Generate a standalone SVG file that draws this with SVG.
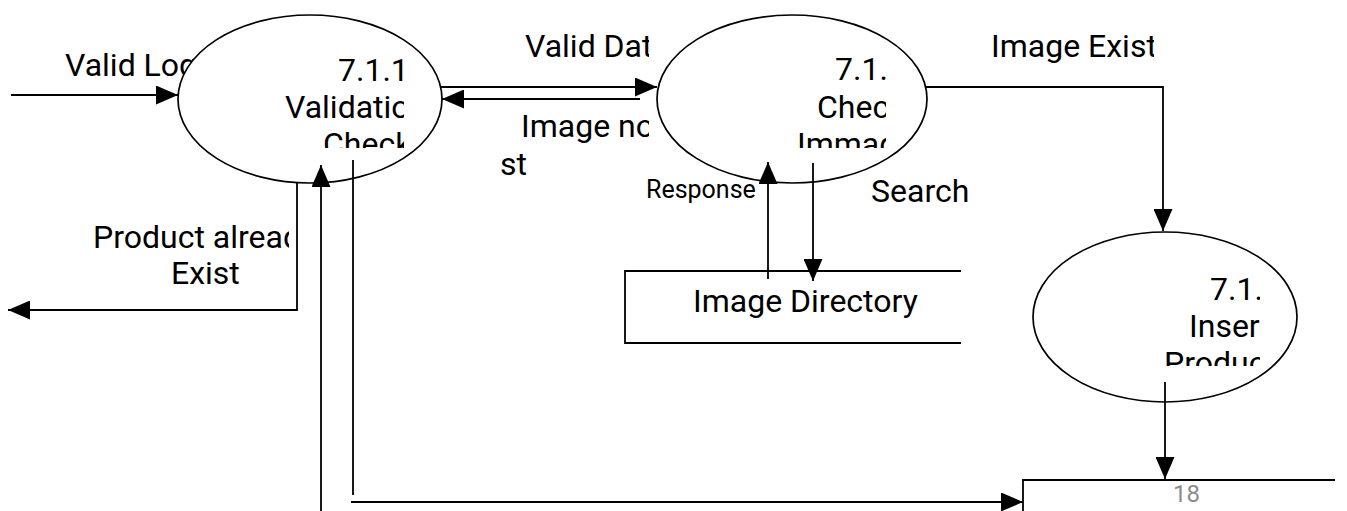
<svg xmlns="http://www.w3.org/2000/svg" width="1347" height="511" viewBox="0 0 1347 511">
<style>
.t{font-family:Roboto,"Liberation Sans",sans-serif;font-size:32px;fill:#000}
.s{font-size:25px}
.pg{font-family:Roboto,"Liberation Sans",sans-serif;font-size:24px;fill:#8c8c8c}
.ln{fill:none;stroke:#000;stroke-width:1.8}
.el{fill:#fff;stroke:#000;stroke-width:1.7}
</style>
<defs>
<marker id="ah" viewBox="0 0 22 19" refX="22" refY="9.5" markerWidth="22" markerHeight="19" markerUnits="userSpaceOnUse" orient="auto">
<path d="M0,0 L22,9.5 L0,19 Z" fill="#000"/>
</marker>
<clipPath id="c1"><rect x="270" y="40" width="134" height="108"/></clipPath>
<clipPath id="c2"><rect x="780" y="40" width="106" height="108"/></clipPath>
<clipPath id="c3"><rect x="1150" y="260" width="110" height="106"/></clipPath>
<clipPath id="cvd"><rect x="480" y="20" width="169" height="130"/></clipPath>
<clipPath id="cpa"><rect x="80" y="215" width="209" height="80"/></clipPath>
<clipPath id="cie"><rect x="980" y="25" width="174" height="45"/></clipPath>
</defs>

<g id="label-valid-login"><text class="t" x="65" y="76">Valid Log</text></g>

<g id="node-validation-check">
<ellipse class="el" cx="310" cy="99" rx="132" ry="84"/>
<g clip-path="url(#c1)">
<text class="t" x="338" y="81">7.1.1</text>
<text class="t" x="285" y="118">Validation</text>
<text class="t" x="323" y="155">Check</text>
</g>
</g>

<g id="node-check-image">
<ellipse class="el" cx="792" cy="99" rx="135" ry="84"/>
<g clip-path="url(#c2)">
<text class="t" x="835" y="80">7.1.</text>
<text class="t" x="817" y="118">Check</text>
<text class="t" x="797" y="155">Immage</text>
</g>
</g>

<g id="node-insert-product">
<ellipse class="el" cx="1165" cy="317" rx="132" ry="85"/>
<g clip-path="url(#c3)">
<text class="t" x="1210" y="300">7.1.</text>
<text class="t" x="1189" y="337">Insert</text>
<text class="t" x="1164" y="374">Product</text>
</g>
</g>

<g id="node-image-directory">
<path class="ln" d="M961,271 H625 V343 H961"/>
<text class="t" x="693" y="312">Image Directory</text>
</g>

<g id="node-product-store">
<path class="ln" d="M1335,480 H1023 V511"/>
<text class="pg" x="1173" y="502">18</text>
</g>

<g id="connectors">
<path class="ln" d="M11,95 H178" marker-end="url(#ah)"/>
<path class="ln" d="M441,87 H657" marker-end="url(#ah)"/>
<path class="ln" d="M640,99 H442" marker-end="url(#ah)"/>
<path class="ln" d="M926,87 H1163 V231" marker-end="url(#ah)"/>
<path class="ln" d="M297,183 V310 H8" marker-end="url(#ah)"/>
<path class="ln" d="M321,511 V165" marker-end="url(#ah)"/>
<path class="ln" d="M353,160 V495"/>
<path class="ln" d="M351,502 H1023" marker-end="url(#ah)"/>
<path class="ln" d="M768,279 V162" marker-end="url(#ah)"/>
<path class="ln" d="M813,163 V281" marker-end="url(#ah)"/>
<path class="ln" d="M1165,382 V479" marker-end="url(#ah)"/>
</g>

<g id="labels">
<g clip-path="url(#cvd)">
<text class="t" x="525" y="57">Valid Data</text>
<text class="t" x="521" y="137">Image not</text>
</g>
<text class="t" x="500" y="175">st</text>
<g clip-path="url(#cie)"><text class="t" x="991" y="57">Image Exist</text></g>
<text class="t s" x="646" y="198">Response</text>
<text class="t" x="871" y="202">Search</text>
<g clip-path="url(#cpa)"><text class="t" x="93" y="248">Product already</text></g>
<text class="t" x="171" y="284">Exist</text>
</g>
</svg>
